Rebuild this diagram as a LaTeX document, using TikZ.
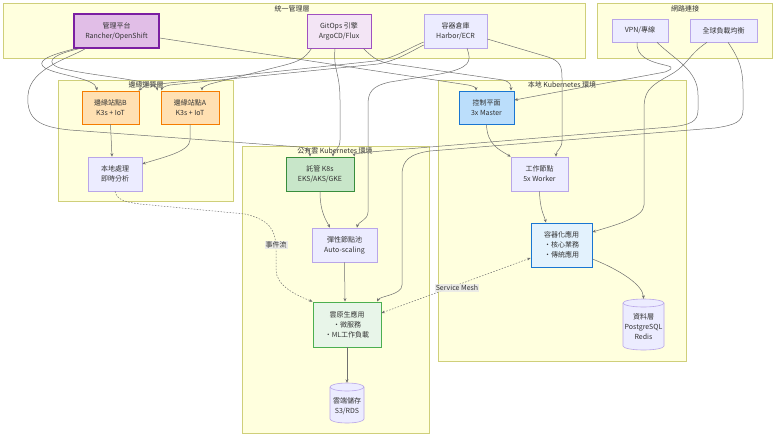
\documentclass[tikz,border=0pt]{standalone}
\usepackage{fontspec}
\setmainfont{Noto Sans CJK TC}
\usetikzlibrary{arrows.meta}

\definecolor{clusfill}{HTML}{FFFFDE}
\definecolor{clusline}{HTML}{CFCF7A}
\definecolor{nodefill}{HTML}{ECECFF}
\definecolor{nodeline}{HTML}{B9A6E8}
\definecolor{edgeline}{HTML}{707070}
\definecolor{txt}{HTML}{333333}
\definecolor{mgmtfill}{HTML}{E1BEE7}
\definecolor{mgmtline}{HTML}{7B1FA2}
\definecolor{gitfill}{HTML}{F3E5F5}
\definecolor{gitline}{HTML}{A050C0}
\definecolor{edgefill}{HTML}{FFE0B2}
\definecolor{edgestroke}{HTML}{F57C00}
\definecolor{ctrlfill}{HTML}{BBDEFB}
\definecolor{blueline}{HTML}{1976D2}
\definecolor{appfill}{HTML}{E3F2FD}
\definecolor{k8sfill}{HTML}{C8E6C9}
\definecolor{k8sline}{HTML}{388E3C}
\definecolor{cloudfill}{HTML}{E8F5E9}
\definecolor{cloudline}{HTML}{4CAF50}

\tikzset{
  cluster/.style={draw=clusline, fill=clusfill, line width=0.6pt},
  cluslabel/.style={font=\fontsize{7}{8}\selectfont, text=txt, inner sep=1pt},
  box/.style={draw=nodeline, fill=nodefill, line width=0.6pt, inner sep=0pt, align=center,
    font=\fontsize{7}{10}\selectfont, text=txt},
  drumtext/.style={inner sep=0pt, align=center, font=\fontsize{7}{10}\selectfont, text=txt},
  drum/.style={draw=nodeline, fill=nodefill, line width=0.6pt},
  mgmtbox/.style={box, fill=mgmtfill, draw=mgmtline, line width=1.3pt},
  gitbox/.style={box, fill=gitfill, draw=gitline, line width=0.9pt},
  edgebox/.style={box, fill=edgefill, draw=edgestroke, line width=0.9pt},
  ctrlbox/.style={box, fill=ctrlfill, draw=blueline, line width=0.9pt},
  appbox/.style={box, fill=appfill, draw=blueline, line width=0.9pt},
  k8sbox/.style={box, fill=k8sfill, draw=k8sline, line width=0.9pt},
  cloudbox/.style={box, fill=cloudfill, draw=cloudline, line width=0.9pt},
  flow/.style={draw=edgeline, line width=0.5pt, -{Stealth[length=3.5pt,width=3pt]}},
  dotflow/.style={flow, dash pattern=on 1.5pt off 1.5pt},
  elabel/.style={fill=gray!18, fill opacity=0.85, text opacity=1, text=txt,
    font=\fontsize{7}{8}\selectfont, inner sep=1pt}
}

% cylinder: centre x, centre y, half width, half height
\newcommand{\drumshape}[4]{%
  \filldraw[drum] (#1-#3,#2+#4-4) -- (#1-#3,#2-#4+4)
    arc[start angle=180, end angle=360, x radius=#3, y radius=4] -- (#1+#3,#2+#4-4)
    arc[start angle=0, end angle=180, x radius=#3, y radius=4] -- cycle;
  \draw[drum, fill=none] (#1-#3,#2+#4-4) arc[start angle=180, end angle=360, x radius=#3, y radius=4];}

\begin{document}
\begin{tikzpicture}[x=1pt,y=1pt]
  \useasboundingbox (0,0) rectangle (784,-442);

  % clusters
  \draw[cluster] (3,-3) rectangle (585,-58);
  \node[cluslabel] (lmgmt) at (292,-9) {統一管理層};
  \draw[cluster] (597,-3) rectangle (772,-58);
  \node[cluslabel] (lnet) at (685,-9) {網路連接};
  \draw[cluster] (58,-80) rectangle (233,-201);
  \node[cluslabel] (ledge) at (146,-85) {邊緣運算層};
  \draw[cluster] (242,-146) rectangle (429,-433);
  \node[cluslabel] (lcloud) at (335,-151) {公有雲 Kubernetes 環境};
  \draw[cluster] (438,-80) rectangle (686,-361);
  \node[cluslabel] (llocal) at (562,-85) {本地 Kubernetes 環境};

  % management layer
  \node[mgmtbox, minimum width=85, minimum height=34] (mgmt) at (116.5,-31) {管理平台\\Rancher/OpenShift};
  \node[gitbox, minimum width=64, minimum height=34] (gitops) at (339,-31) {GitOps 引擎\\ArgoCD/Flux};
  \node[box, minimum width=63, minimum height=34] (registry) at (455.5,-31) {容器倉庫\\Harbor/ECR};

  % network
  \node[box, minimum width=56, minimum height=23] (vpn) at (640,-30.5) {VPN/專線};
  \node[box, minimum width=67, minimum height=23] (glb) at (723.5,-30.5) {全球負載均衡};

  % edge layer
  \node[edgebox, minimum width=57, minimum height=33] (edgeB) at (110.5,-107.5) {邊緣站點B\\K3s + IoT};
  \node[edgebox, minimum width=58, minimum height=33] (edgeA) at (190,-107.5) {邊緣站點A\\K3s + IoT};
  \node[box, minimum width=54, minimum height=34] (localproc) at (115,-174) {本地處理\\即時分析};

  % on-premises
  \node[ctrlbox, minimum width=55, minimum height=33] (ctrl) at (486.5,-107.5) {控制平面\\3x Master};
  \node[box, minimum width=57, minimum height=34] (worker) at (539.5,-174) {工作節點\\5x Worker};
  \node[appbox, minimum width=61, minimum height=44] (onpremapp) at (561.5,-245) {容器化應用\\·核心業務\\·傳統應用};
  \drumshape{643.5}{-324.5}{20.5}{25.5}
  \node[drumtext, minimum width=41, minimum height=55] (datalayer) at (643.5,-326.5) {資料層\\PostgreSQL\\Redis};

  % public cloud
  \node[k8sbox, minimum width=68, minimum height=34] (managedk8s) at (320,-174) {託管 K8s\\EKS/AKS/GKE};
  \node[box, minimum width=65, minimum height=34] (nodepool) at (344.5,-245) {彈性節點池\\Auto-scaling};
  \node[cloudbox, minimum width=68, minimum height=45] (cloudapp) at (347,-324.5) {雲原生應用\\·微服務\\·ML工作負載};
  \drumshape{347}{-403}{17}{20}
  \node[drumtext, minimum width=34, minimum height=47] (cloudstore) at (347,-406.5) {雲端儲存\\S3/RDS};

  % management links
  \draw[flow] ([xshift=2]mgmt.south west) .. controls (45,-56) and (36,-62) .. (45,-68) .. controls (60,-76) and (95,-78) .. ([xshift=-13.5]edgeB.north);
  \draw[flow] ([xshift=6]mgmt.south west) .. controls (50,-55) and (45,-63) .. (60,-68) .. controls (90,-76) and (155,-80) .. ([xshift=-3]edgeA.north west);
  \draw[flow] ([xshift=12]mgmt.south west) .. controls (70,-58) and (30,-68) .. (28,-95) .. controls (26,-120) and (40,-127) .. (70,-130) -- (300,-147) .. controls (308,-148) and (310,-151) .. ([xshift=-10]managedk8s.north);
  \draw[flow] ([yshift=-7]mgmt.east) -- (468,-85) .. controls (474,-86) and (476,-88) .. ([xshift=-10.5]ctrl.north);
  \draw[flow] ([xshift=5]gitops.south west) .. controls (305,-58) and (300,-61) .. (285,-65) -- (210,-84) .. controls (204,-86) and (202,-88) .. ([xshift=12]edgeA.north);
  \draw[flow] ([xshift=-4]gitops.south) .. controls (333,-70) and (340,-72) .. (340,-100) -- (340,-140) .. controls (340,-150) and (333,-150) .. ([xshift=13]managedk8s.north);
  \draw[flow] ([xshift=-8]gitops.south east) .. controls (375,-60) and (380,-63) .. (400,-65) -- (503,-80) .. controls (511,-82) and (511,-86) .. ([xshift=24.5]ctrl.north);
  \draw[flow] ([yshift=-11]registry.west) .. controls (405,-50) and (395,-58) .. (375,-61) -- (150,-85) .. controls (144,-86) and (142,-88) .. ([xshift=-1]edgeB.north east);
  \draw[flow] ([yshift=-14]registry.west) .. controls (408,-53) and (398,-60) .. (378,-64) -- (170,-85) .. controls (165,-86) and (162,-88) .. ([xshift=1]edgeA.north west);
  \draw[flow] ([xshift=11.5]registry.south) .. controls (472,-62) and (470,-68) .. (440,-74) -- (390,-82) .. controls (372,-86) and (368,-92) .. (368,-105) -- (368,-212) .. controls (368,-220) and (358,-222) .. ([xshift=12.5]nodepool.north);
  \draw[flow] ([yshift=-8]registry.east) -- (548,-57) .. controls (560,-61) and (562,-66) .. (562,-78) -- (562,-140) .. controls (562,-150) and (556,-150) .. ([xshift=16.5]worker.north);

  % network links
  \draw[flow] ([xshift=-3]vpn.south) .. controls (635,-70) and (690,-62) .. (665,-72) -- ([yshift=7.5]ctrl.east);
  \draw[flow] ([xshift=17]vpn.south) .. controls (675,-60) and (698,-70) .. (698,-95) -- (698,-110) .. controls (698,-122) and (690,-125) .. (670,-127) -- (370,-152) .. controls (360,-153) and (354,-154) .. (managedk8s.north east);
  \draw[flow] ([xshift=-16.5]glb.south) .. controls (688,-55) and (688,-65) .. (670,-75) .. controls (648,-87) and (644,-92) .. (644,-110) -- (644,-205) .. controls (644,-218) and (612,-226) .. ([yshift=13]onpremapp.east);
  \draw[flow] ([xshift=4.5]glb.south) .. controls (740,-60) and (743,-70) .. (743,-90) -- (743,-110) .. controls (743,-122) and (735,-125) .. (715,-128) -- (430,-151) .. controls (410,-154) and (402,-160) .. (402,-175) -- (402,-285) .. controls (402,-295) and (380,-296) .. ([xshift=30]cloudapp.north);

  % inside clusters
  \draw[flow] (edgeB.south) -- ([xshift=-3]localproc.north);
  \draw[flow] (edgeA.south) -- (190,-140) .. controls (190,-152) and (160,-158) .. ([yshift=10]localproc.east);
  \draw[flow] (ctrl.south) .. controls (487,-145) and (500,-150) .. (worker.north west);
  \draw[flow] (worker.south) .. controls (540,-210) and (544,-215) .. ([xshift=-15.5]onpremapp.north);
  \draw[flow] ([yshift=-14]onpremapp.east) .. controls (620,-270) and (643,-285) .. (datalayer.north);
  \draw[flow] (managedk8s.south) .. controls (320,-212) and (326,-220) .. ([xshift=-14.5]nodepool.north);
  \draw[flow] (nodepool.south) -- ([xshift=-2]cloudapp.north);
  \draw[flow] (cloudapp.south) -- (cloudstore.north);

  % cross links
  \draw[dotflow] (localproc.south) .. controls (117,-200) and (125,-202) .. (140,-204) -- (245,-214) .. controls (270,-220) and (276,-230) .. (276,-250) -- (276,-270) .. controls (276,-285) and (295,-295) .. (cloudapp.north west);
  \node[elabel] (levents) at (276,-245) {事件流};
  \draw[dotflow, {Stealth[length=3.5pt,width=3pt]}-{Stealth[length=3.5pt,width=3pt]}] ([yshift=11.5]cloudapp.east) -- ([yshift=-13]onpremapp.west);
  \node[elabel] (lmesh) at (457,-288) {Service Mesh};
\end{tikzpicture}
\end{document}
